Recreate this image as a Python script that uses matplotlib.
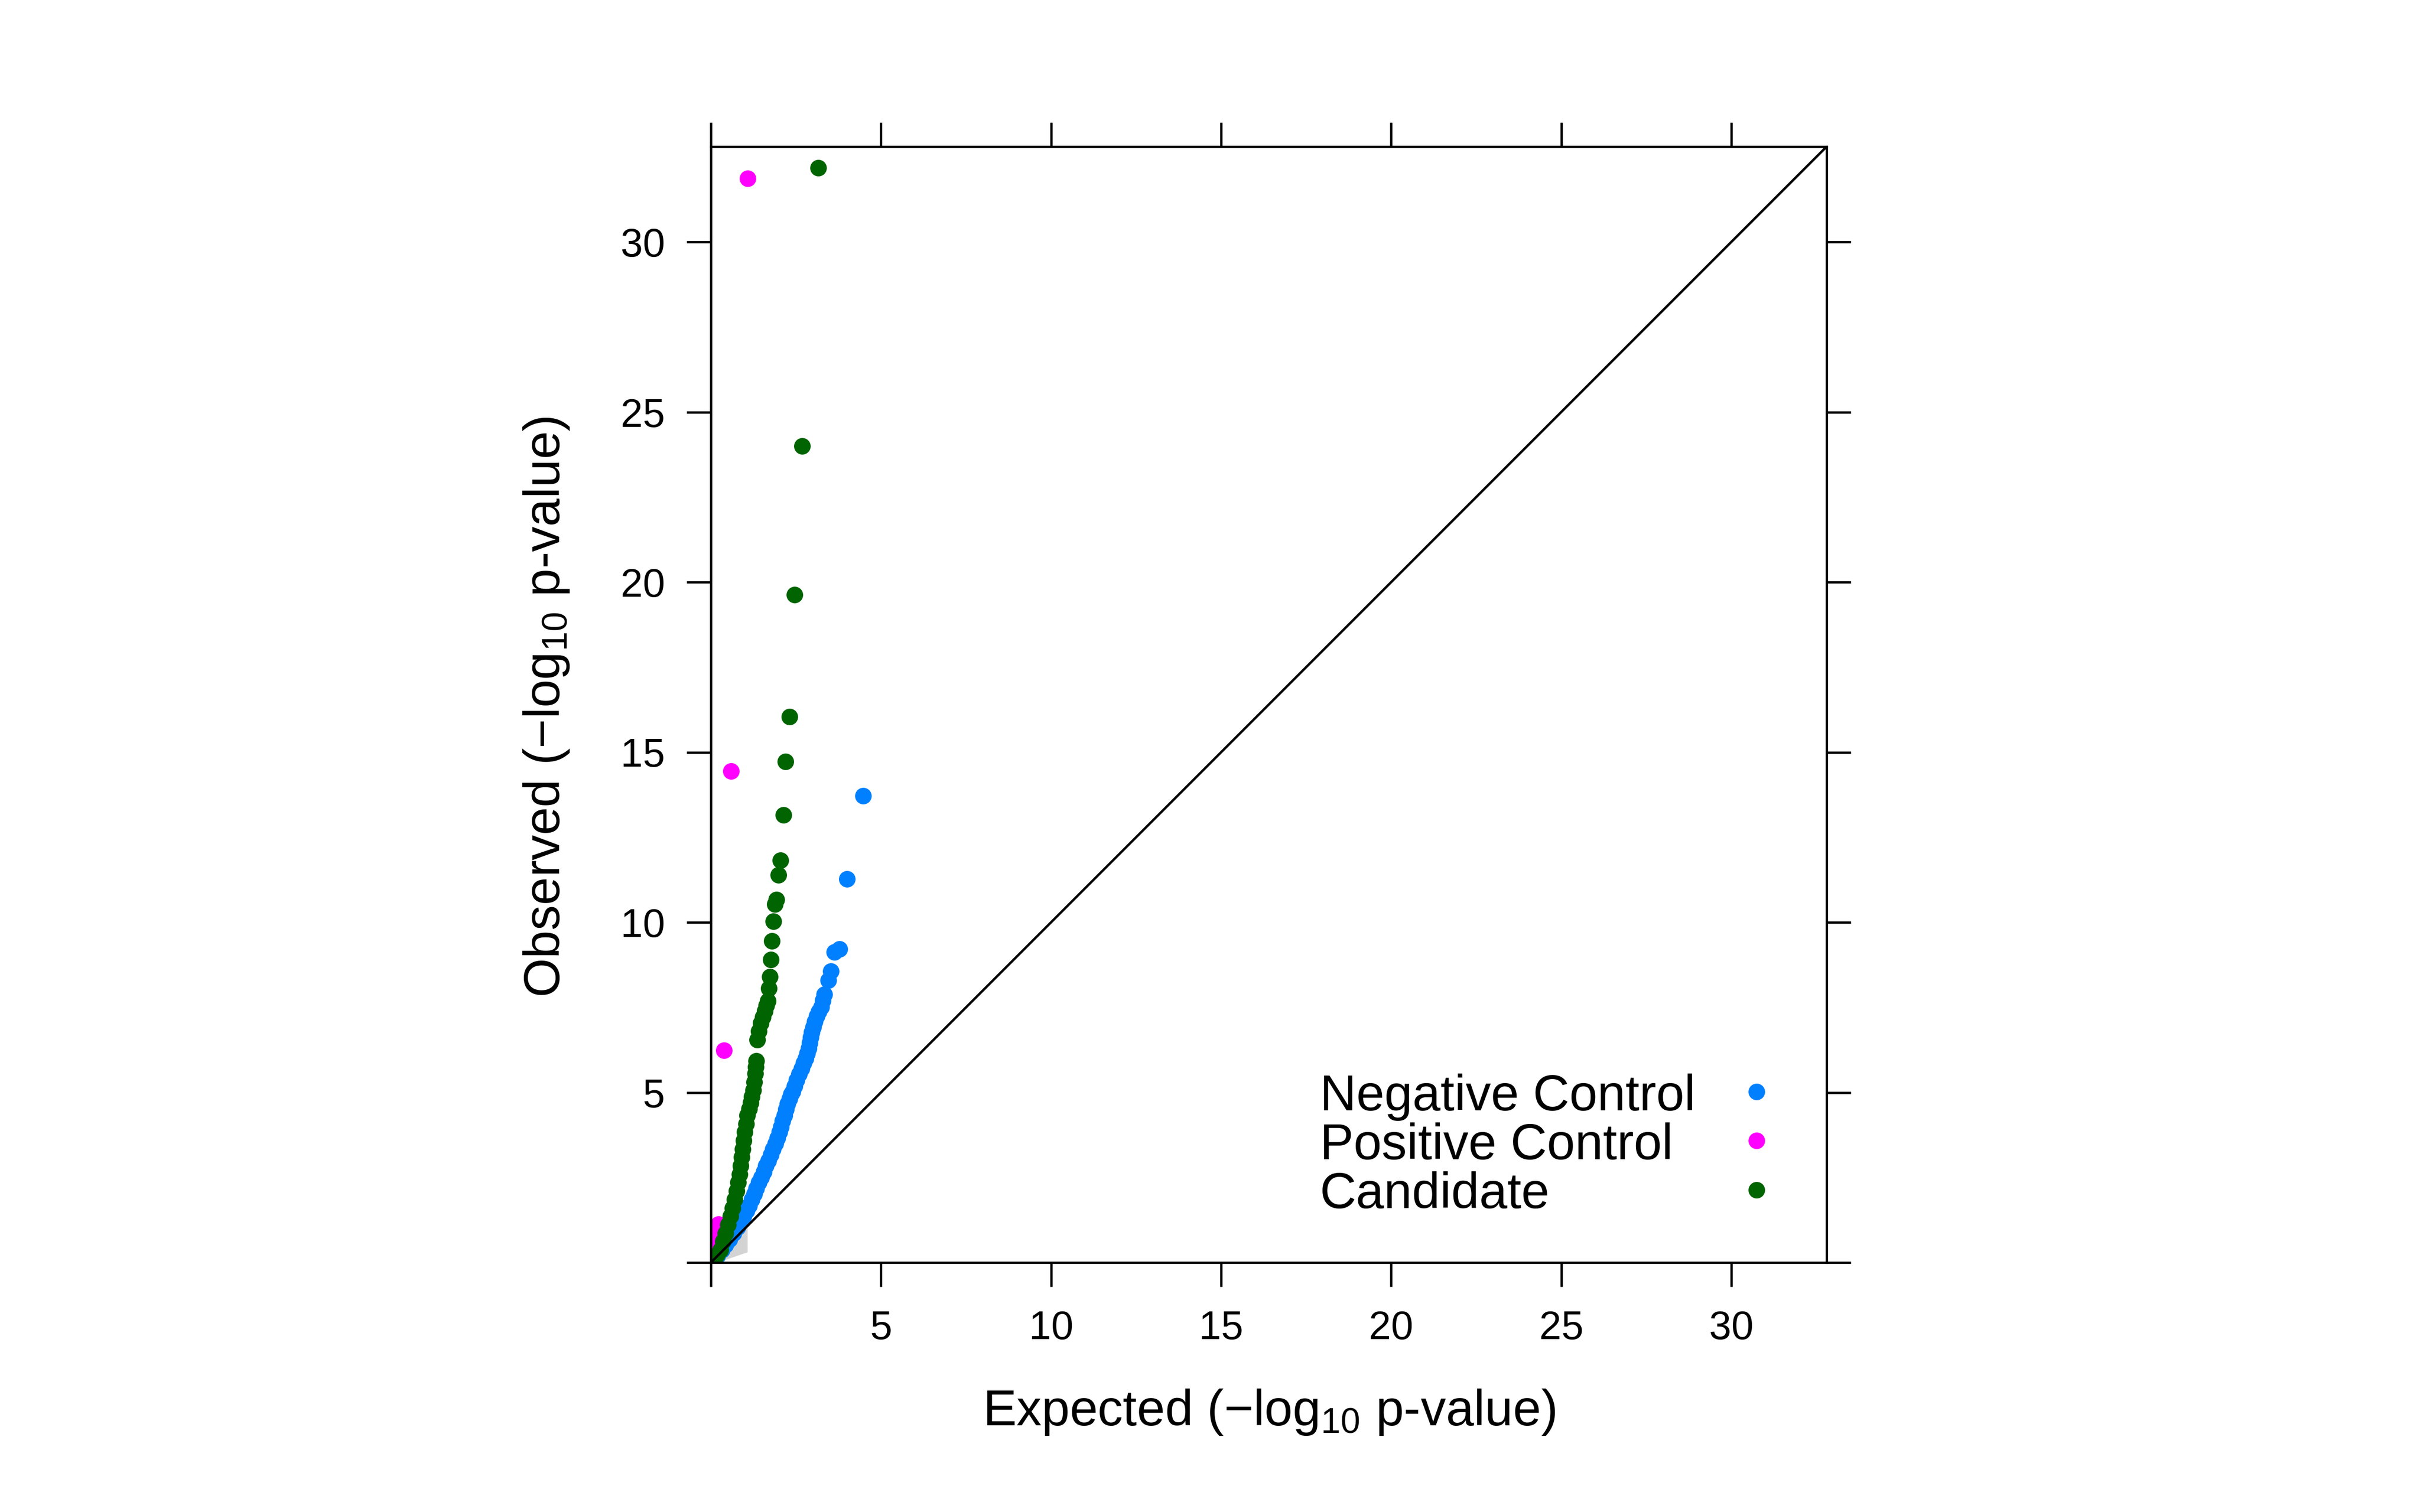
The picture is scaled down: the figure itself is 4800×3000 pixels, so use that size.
import matplotlib
matplotlib.use('Agg')
import matplotlib.pyplot as plt

plt.rcParams['font.family'] = ['Liberation Sans', 'DejaVu Sans']
plt.rcParams['mathtext.fontset'] = 'custom'
plt.rcParams['mathtext.rm'] = 'Liberation Sans'
plt.rcParams['mathtext.it'] = 'Liberation Sans:italic'
plt.rcParams['mathtext.default'] = 'regular'

# ---------------- data ----------------
groups = ['Negative Control', 'Positive Control', 'Candidate']
colors = ['#0080FF', '#FF00FF', '#006400']

neg_x = [0.08, 0.20, 0.32, 0.43, 0.55, 0.67, 0.78, 0.88, 0.96, 1.05, 1.13, 1.20,
         1.27, 1.34, 1.41, 1.48, 1.55, 1.62, 1.69, 1.76, 1.83, 1.89, 1.95, 2.01,
         2.06, 2.11, 2.16, 2.21, 2.25, 2.31, 2.36, 2.40, 2.46, 2.52, 2.60, 2.67,
         2.73, 2.79, 2.83, 2.87, 2.90, 2.94, 2.97, 3.01, 3.06, 3.11, 3.17, 3.24,
         3.29, 3.34, 3.45, 3.53, 3.63, 3.78, 4.00, 4.48]
neg_y = [0.05, 0.20, 0.37, 0.52, 0.68, 0.86, 1.03, 1.20, 1.36, 1.52, 1.68, 1.85,
         2.01, 2.18, 2.35, 2.51, 2.67, 2.84, 3.00, 3.17, 3.34, 3.50, 3.66, 3.83,
         3.99, 4.16, 4.32, 4.50, 4.67, 4.82, 4.95, 5.02, 5.19, 5.36, 5.54, 5.71,
         5.86, 6.00, 6.15, 6.30, 6.46, 6.62, 6.77, 6.92, 7.08, 7.24, 7.38, 7.51,
         7.70, 7.88, 8.29, 8.57, 9.12, 9.22, 11.27, 13.72]

pos_x = [0.04, 0.10, 0.16, 0.22, 0.385, 0.60, 1.08]
pos_y = [0.35, 0.62, 0.88, 1.12, 6.23, 14.44, 31.86]

cand_x = [0.03, 0.10, 0.18, 0.28, 0.36, 0.43, 0.51, 0.58, 0.64, 0.69, 0.75, 0.80,
          0.84, 0.87, 0.90, 0.93, 0.97, 1.00, 1.04, 1.07, 1.12, 1.17, 1.20, 1.24,
          1.27, 1.31, 1.32, 1.33, 1.36, 1.41, 1.47, 1.53, 1.58, 1.63, 1.68, 1.70,
          1.73, 1.76, 1.80, 1.84, 1.88, 1.93, 1.98, 2.04, 2.13, 2.20, 2.31, 2.46,
          2.68, 3.16]
cand_y = [0.03, 0.10, 0.22, 0.37, 0.62, 0.86, 1.11, 1.36, 1.60, 1.85, 2.10, 2.35,
          2.60, 2.84, 3.09, 3.34, 3.58, 3.83, 4.08, 4.32, 4.52, 4.70, 4.88, 5.07,
          5.30, 5.56, 5.75, 5.93, 6.55, 6.80, 7.04, 7.22, 7.39, 7.55, 7.69, 8.06,
          8.40, 8.90, 9.45, 10.03, 10.53, 10.66, 11.39, 11.82, 13.16, 14.73, 16.04,
          19.63, 24.00, 32.18]

series_x = [neg_x, pos_x, cand_x]
series_y = [neg_y, pos_y, cand_y]

# confidence band near the origin
band_x = [0.0, 0.5, 1.08, 1.08, 0.2]
band_y = [0.0, 0.65, 1.45, 0.30, 0.0]

ticks = [0, 5, 10, 15, 20, 25, 30]
tick_labels = ['', '5', '10', '15', '20', '25', '30']
axis_lim = (0, 32.8)

xlabel = 'Expected (\u2212log$_{10}$ p-value)'
ylabel = 'Observed (\u2212log$_{10}$ p-value)'

# ---------------- figure ----------------
W, H = 4800, 3000
fig = plt.figure(figsize=(16, 10), dpi=300)
ax = fig.add_axes([1410 / W, (H - 2505) / H, 2213 / W, 2214 / H])

ax.fill(band_x, band_y, color='#D3D3D3', lw=0, zorder=1)

ms = 7.9
for xs, ys, c in zip(series_x, series_y, colors):
    ax.plot(xs, ys, ls='none', marker='o', ms=ms, mew=0, color=c, zorder=2)

ax.axline((0, 0), slope=1, color='black', lw=1.15, zorder=3)

ax.set_xlim(*axis_lim)
ax.set_ylim(*axis_lim)
ax.set_xticks(ticks)
ax.set_yticks(ticks)
ax.set_xticklabels(tick_labels)
ax.set_yticklabels(tick_labels)

for sp in ax.spines.values():
    sp.set_linewidth(1.1)
    sp.set_zorder(4)

ax.tick_params(which='major', direction='out', length=11.5, width=1.1,
               top=True, right=True, labeltop=False, labelright=False,
               labelsize=19)
ax.tick_params(axis='x', pad=11.0)
ax.tick_params(axis='y', pad=10.4)

# axis titles
fig.text(2517 / W, 1 - 2828 / H, xlabel, ha='center', va='baseline', fontsize=24)
fig.text(1110 / W, 1 - 1403 / H, ylabel, ha='center', va='baseline', fontsize=24,
         rotation=90, rotation_mode='anchor')

# legend (inside panel, bottom-right)
leg_text_x = (2618 - 1410) / 2213
leg_mark_x = (3484 - 1410) / 2213
leg_base_y = [(2505 - 2203) / 2214, (2505 - 2300) / 2214, (2505 - 2397) / 2214]
leg_mark_y = [(2505 - 2166) / 2214, (2505 - 2263) / 2214, (2505 - 2361) / 2214]
for lab, c, by, my in zip(groups, colors, leg_base_y, leg_mark_y):
    ax.text(leg_text_x, by, lab, transform=ax.transAxes, ha='left', va='baseline',
            fontsize=24, zorder=5)
    ax.plot([leg_mark_x], [my], transform=ax.transAxes, ls='none', marker='o',
            ms=ms, mew=0, color=c, clip_on=False, zorder=5)

fig.savefig('out.png', dpi=300, facecolor='white')
